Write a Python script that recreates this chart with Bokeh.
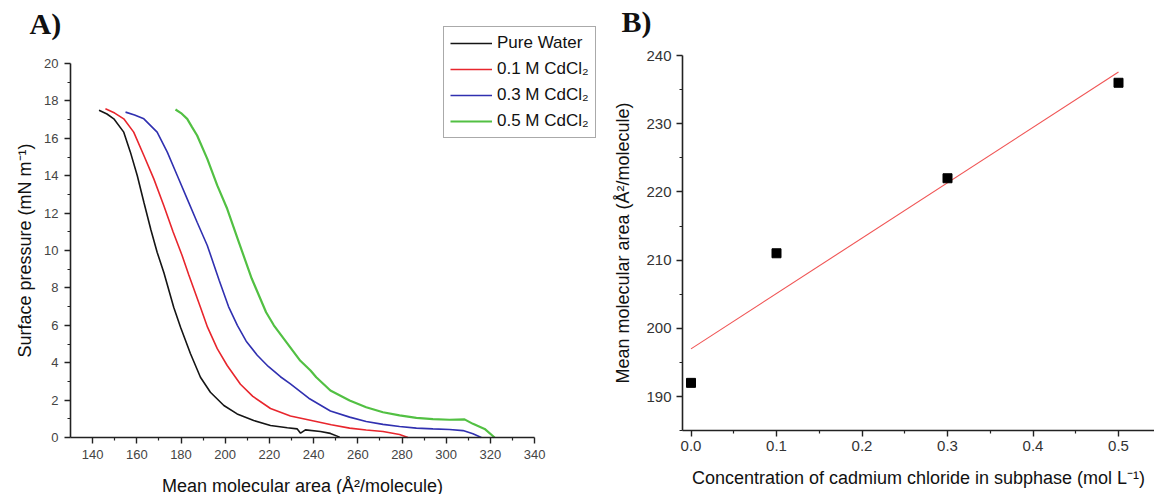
import numpy as np
from bokeh.plotting import figure
from bokeh.layouts import row
from bokeh.models import (Range1d, FixedTicker, Legend, LegendItem, Label,
                          PrintfTickFormatter)
from bokeh.embed import file_html
from bokeh.resources import INLINE

# ---------------- Panel A data: surface pressure isotherms ----------------
pure_x = [142.9, 146.5, 149.6, 154.1, 157.1, 160.2, 163.2, 166.4, 169.2, 172.3,
          176.7, 179.8, 184.3, 188.8, 193.3, 199.4, 205.4, 212.9, 220.5, 228.1,
          232.6, 234.1, 236.3, 243.1, 247.6, 251.8]
pure_y = [17.5, 17.3, 17.04, 16.33, 15.26, 14.01, 12.58, 11.1, 9.91, 8.8,
          6.97, 5.9, 4.48, 3.22, 2.42, 1.71, 1.26, 0.91, 0.64, 0.52,
          0.46, 0.23, 0.41, 0.32, 0.22, 0.02]

cd01_x = [145.8, 150.0, 154.1, 158.6, 163.2, 167.7, 172.2, 176.4, 180.5, 183.5,
          188.8, 192.0, 196.4, 200.9, 206.9, 212.5, 220.5, 229.5, 240.1, 248.0,
          256.3, 263.8, 271.4, 278.9, 282.7]
cd01_y = [17.58, 17.35, 17.04, 16.33, 15.08, 13.83, 12.41, 11.0, 9.73, 8.7,
          6.97, 5.9, 4.75, 3.85, 2.85, 2.2, 1.55, 1.15, 0.88, 0.68,
          0.5, 0.4, 0.32, 0.16, 0.0]

cd03_x = [154.9, 159.0, 163.2, 169.2, 173.8, 178.3, 182.8, 187.3, 191.9, 197.3,
          201.5, 205.5, 209.5, 214.5, 219.5, 225.0, 229.5, 237.8, 247.6, 256.3,
          263.8, 271.4, 278.9, 286.5, 294.0, 301.5, 307.6, 312.1, 315.9]
cd03_y = [17.4, 17.25, 17.04, 16.33, 15.26, 14.01, 12.76, 11.51, 10.27, 8.4,
          7.0, 6.0, 5.15, 4.4, 3.8, 3.25, 2.87, 2.1, 1.42, 1.09,
          0.86, 0.70, 0.59, 0.50, 0.46, 0.43, 0.37, 0.2, 0.0]

cd05_x = [177.5, 180.0, 182.8, 185.0, 187.3, 191.9, 196.4, 200.9, 206.0, 212.0,
          218.5, 222.0, 228.0, 234.0, 238.6, 241.2, 247.6, 256.3, 263.8, 271.4,
          278.9, 286.5, 294.0, 301.5, 308.3, 312.1, 317.4, 321.9]
cd05_y = [17.54, 17.35, 17.04, 16.6, 16.15, 14.9, 13.48, 12.23, 10.5, 8.5,
          6.7, 6.0, 5.05, 4.1, 3.58, 3.22, 2.51, 1.98, 1.62, 1.35,
          1.18, 1.05, 0.98, 0.95, 0.97, 0.73, 0.46, 0.0]

series_labels = ["Pure Water", "0.1 M CdCl\u2082", "0.3 M CdCl\u2082", "0.5 M CdCl\u2082"]
series_colors = ["#151515", "#e8262d", "#3030b0", "#52c043"]

a_xticks = [140, 160, 180, 200, 220, 240, 260, 280, 300, 320, 340]
a_xminor = [150, 170, 190, 210, 230, 250, 270, 290, 310, 330]
a_yticks = [0, 2, 4, 6, 8, 10, 12, 14, 16, 18, 20]
a_yminor = [1, 3, 5, 7, 9, 11, 13, 15, 17, 19]

# ---------------- Panel B data: area vs concentration ----------------
conc = [0.0, 0.1, 0.3, 0.5]
area = [192, 211, 222, 236]

b_xticks = [0.0, 0.1, 0.2, 0.3, 0.4, 0.5]
b_xminor = [0.05, 0.15, 0.25, 0.35, 0.45]
b_yticks = [190, 200, 210, 220, 230, 240]
b_yminor = [185, 195, 205, 215, 225, 235]

FONT = "Liberation Sans"
SERIF = "Liberation Serif"
H = 494


def style_axes(p, tick_color, tick_size):
    for ax in (p.xaxis[0], p.yaxis[0]):
        ax.axis_line_width = 1.6
        ax.axis_line_color = "#222222"
        ax.major_tick_line_color = "#222222"
        ax.minor_tick_line_color = "#222222"
        ax.major_tick_line_width = 1.4
        ax.minor_tick_line_width = 1.2
        ax.major_tick_in = 0
        ax.major_tick_out = 6
        ax.minor_tick_in = 0
        ax.minor_tick_out = 3
        ax.major_label_text_font = FONT
        ax.major_label_text_font_size = tick_size
        ax.major_label_text_color = tick_color
        ax.axis_label_text_font = FONT
        ax.axis_label_text_font_size = "18px"
        ax.axis_label_text_font_style = "normal"
        ax.axis_label_text_color = "#111111"
    p.xgrid.visible = False
    p.ygrid.visible = False
    p.outline_line_color = None


# ---------------- Panel A ----------------
# frame covers the whole canvas; axes are pinned with fixed_location
a_x0, a_xpx0, a_xscale = 130, 70, 2.21      # data 130 at pixel 70, 2.21 px per unit
a_y0, a_ypx0, a_yscale = 0, 437, 18.7       # data 0 at pixel row 437
p1 = figure(width=600, height=H,
            x_range=Range1d(a_x0 - a_xpx0 / a_xscale, a_x0 + (600 - a_xpx0) / a_xscale),
            y_range=Range1d(a_y0 - (H - a_ypx0) / a_yscale, a_y0 + a_ypx0 / a_yscale),
            output_backend="svg", toolbar_location=None,
            min_border=0, background_fill_color="white")
p1.xaxis.ticker = FixedTicker(ticks=a_xticks, minor_ticks=a_xminor)
p1.yaxis.ticker = FixedTicker(ticks=a_yticks, minor_ticks=a_yminor)
p1.xaxis.fixed_location = 0
p1.yaxis.fixed_location = 130
p1.xaxis.bounds = (130, 340)
p1.yaxis.bounds = (0, 20)
p1.xaxis.axis_label = "Mean molecular area (\u00c5\u00b2/molecule)"
p1.yaxis.axis_label = "Surface pressure (mN m\u207b\u00b9)"
style_axes(p1, "#444444", "13px")
p1.xaxis.major_label_standoff = 6
p1.yaxis.major_label_standoff = 6
p1.xaxis.axis_label_standoff = 14
p1.yaxis.axis_label_standoff = 6

renderers = []
for xs, ys, c in zip([pure_x, cd01_x, cd03_x, cd05_x],
                     [pure_y, cd01_y, cd03_y, cd05_y], series_colors):
    w = 2.2 if c == series_colors[3] else 1.6
    renderers.append(p1.line(xs, ys, line_color=c, line_width=w))

legend = Legend(items=[LegendItem(label=l, renderers=[r]) for l, r in zip(series_labels, renderers)],
                location=(443, H - 138), orientation="vertical",
                border_line_color="#555555", border_line_width=1.5,
                background_fill_color="white", background_fill_alpha=1.0,
                label_text_font=FONT, label_text_font_size="17px",
                label_text_color="#111111",
                glyph_width=42, glyph_height=20, label_height=20,
                spacing=6, padding=6, margin=0, label_standoff=5)
p1.add_layout(legend, "center")

p1.add_layout(Label(x=29, y=H - 39, x_units="screen", y_units="screen", text="A)",
                    text_font=SERIF, text_font_size="30px", text_font_style="bold",
                    text_color="#111111"))

# ---------------- Panel B ----------------
b_x0, b_xpx0, b_xscale = 0.0, 90.5, 855.0   # data 0.0 at pixel 90.5 of this canvas
b_y0, b_ypx0, b_yscale = 240, 55, 6.82      # data 240 at pixel row 55
p2 = figure(width=554, height=H,
            x_range=Range1d(b_x0 - b_xpx0 / b_xscale, b_x0 + (554 - b_xpx0) / b_xscale),
            y_range=Range1d(b_y0 - (H - b_ypx0) / b_yscale, b_y0 + b_ypx0 / b_yscale),
            output_backend="svg", toolbar_location=None,
            min_border=0, background_fill_color="white")
p2.xaxis.ticker = FixedTicker(ticks=b_xticks, minor_ticks=b_xminor)
p2.yaxis.ticker = FixedTicker(ticks=b_yticks, minor_ticks=b_yminor)
p2.xaxis.formatter = PrintfTickFormatter(format="%.1f")
p2.xaxis.fixed_location = 185
p2.yaxis.fixed_location = -0.0099
p2.xaxis.bounds = (-0.0099, 0.55)
p2.yaxis.bounds = (185, 240)
p2.xaxis.axis_label = "Concentration of cadmium chloride in subphase (mol L\u207b\u00b9)"
p2.yaxis.axis_label = "Mean molecular area (\u00c5\u00b2/molecule)"
style_axes(p2, "#333333", "15px")
p2.xaxis.major_label_standoff = 4
p2.yaxis.major_label_standoff = 5
p2.xaxis.axis_label_standoff = 14
p2.yaxis.axis_label_standoff = 10

slope, intercept = np.polyfit(conc, area, 1)
fit_x = [min(conc), max(conc)]
fit_y = [intercept + slope * v for v in fit_x]
p2.line(fit_x, fit_y, line_color="#f05555", line_width=1.1)
p2.scatter(conc, area, marker="square", size=9, fill_color="black", line_color="black")

p2.add_layout(Label(x=21, y=H - 37, x_units="screen", y_units="screen", text="B)",
                    text_font=SERIF, text_font_size="30px", text_font_style="bold",
                    text_color="#111111"))

layout = row(p1, p2)
with open("out.html", "w") as f:
    f.write(file_html(layout, INLINE))
